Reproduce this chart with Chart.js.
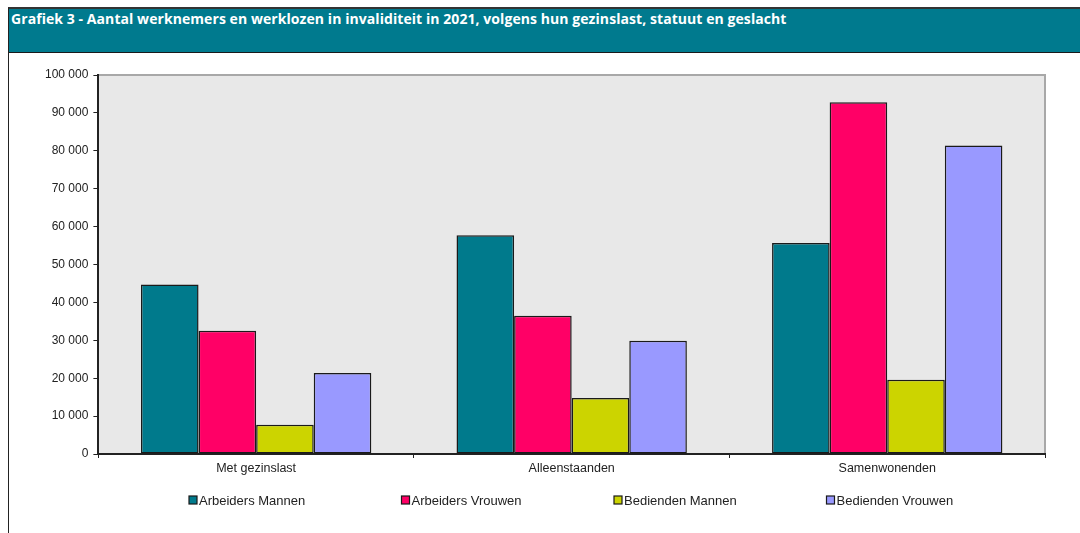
<!DOCTYPE html>
<html>
<head>
<meta charset="utf-8">
<script src="https://cdn.jsdelivr.net/npm/chart.js@4.4.1/dist/chart.umd.min.js"></script>
<style>
  body { margin: 0; background: #fff; width: 1080px; height: 533px; overflow: hidden; position: relative; }
  #frame { position: absolute; left: 8px; top: 7px; width: 1080px; height: 540px; border-left: 1px solid #222; border-top: 2px solid #333; }
  #header { height: 44px; background: #007A8E; border-bottom: 1px solid #1a1a1a; color: #fff;
    font: bold 14px "Open Sans", "Liberation Sans", sans-serif; padding: 0 0 0 2px; box-sizing: border-box; letter-spacing: 0.07px; }
  #wrap { position: absolute; left: 0; top: 0; width: 1080px; height: 533px; }
</style>
</head>
<body>
<div id="frame"><div id="header">Grafiek 3 - Aantal werknemers en werklozen in invaliditeit in 2021, volgens hun gezinslast, statuut en geslacht</div></div>
<div id="wrap"><canvas id="chart" width="1080" height="533"></canvas></div>
<script>
// data
const categories = ['Met gezinslast', 'Alleenstaanden', 'Samenwonenden'];
const arbeidersMannen = [44700, 57700, 55700];
const arbeidersVrouwen = [32500, 36500, 92800];
const bediendenMannen = [7700, 14800, 19600];
const bediendenVrouwen = [21400, 29900, 81400];
const yTicks = [0, 10000, 20000, 30000, 40000, 50000, 60000, 70000, 80000, 90000, 100000];

const FONT = 'Liberation Sans';

function fmt(v) {
    return String(v).replace(/\B(?=(\d{3})+(?!\d))/g, ' ');
}

// gray plot background + light border on top/right
const plotBg = {
    id: 'plotBg',
    beforeDraw(chart) {
        const { ctx, chartArea: a } = chart;
        ctx.save();
        ctx.fillStyle = '#E8E8E8';
        ctx.fillRect(a.left, a.top, a.right - a.left, a.bottom - a.top);
        ctx.strokeStyle = '#A8A8A8';
        ctx.lineWidth = 2;
        ctx.beginPath();
        ctx.moveTo(a.left, a.top);
        ctx.lineTo(a.right, a.top);
        ctx.lineTo(a.right, a.bottom);
        ctx.stroke();
        ctx.restore();
    }
};

// Excel-style legend: evenly spaced items under the chart
const fixedLegend = {
    id: 'fixedLegend',
    afterDraw(chart) {
        const ctx = chart.ctx;
        ctx.save();
        ctx.font = '13px ' + FONT;
        ctx.textBaseline = 'middle';
        chart.data.datasets.forEach((ds, i) => {
            const x = 189 + i * 212.5;
            const y = 500;
            ctx.fillStyle = ds.backgroundColor;
            ctx.fillRect(x, y - 4, 8, 8);
            ctx.strokeStyle = '#1a1a1a';
            ctx.lineWidth = 1.2;
            ctx.strokeRect(x, y - 4, 8, 8);
            ctx.fillStyle = '#222';
            ctx.fillText(ds.label, x + 10, y + 1);
        });
        ctx.restore();
    }
};

const mk = (label, data, color) => ({
    label, data,
    backgroundColor: color,
    borderColor: '#1a1a1a',
    borderWidth: 1.5,
    borderSkipped: false,
    categoryPercentage: 0.73,
    barPercentage: 1.0
});

new Chart(document.getElementById('chart'), {
    type: 'bar',
    data: {
        labels: categories,
        datasets: [
            mk('Arbeiders Mannen', arbeidersMannen, '#007A8C'),
            mk('Arbeiders Vrouwen', arbeidersVrouwen, '#FF0066'),
            mk('Bedienden Mannen', bediendenMannen, '#CCD400'),
            mk('Bedienden Vrouwen', bediendenVrouwen, '#9999FF')
        ]
    },
    options: {
        responsive: false,
        animation: false,
        layout: { padding: { left: 40, right: 35, top: 75, bottom: 54 } },
        plugins: {
            legend: { display: false },
            tooltip: { enabled: false }
        },
        scales: {
            x: {
                grid: { offset: true, drawOnChartArea: false, color: '#222', tickLength: 4 },
                border: { color: '#222', width: 2 },
                ticks: { color: '#222', font: { family: FONT, size: 12.5 }, padding: 3 }
            },
            y: {
                min: 0, max: 100000,
                afterBuildTicks: axis => { axis.ticks = yTicks.map(v => ({ value: v })); },
                grid: { drawOnChartArea: false, color: '#222', tickLength: 5 },
                border: { color: '#222', width: 2 },
                ticks: { color: '#222', font: { family: FONT, size: 12 }, padding: 5, callback: v => fmt(v) }
            }
        }
    },
    plugins: [plotBg, fixedLegend]
});
</script>
</body>
</html>
